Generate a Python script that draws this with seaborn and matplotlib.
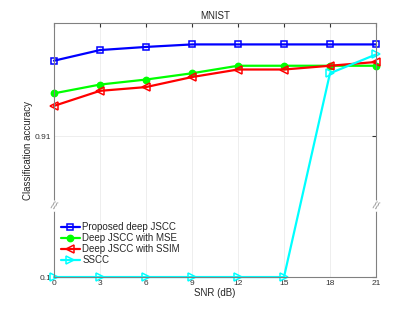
import numpy as np
import matplotlib
matplotlib.use("Agg")
import matplotlib.pyplot as plt
import seaborn as sns

snr = [0, 3, 6, 9, 12, 15, 18, 21]
proposed = [0.970, 0.9785, 0.981, 0.983, 0.983, 0.983, 0.983, 0.983]
jscc_mse = [0.944, 0.951, 0.955, 0.960, 0.966, 0.966, 0.966, 0.966]
jscc_ssim = [0.934, 0.946, 0.949, 0.957, 0.963, 0.963, 0.966, 0.969]
sscc = [0.1, 0.1, 0.1, 0.1, 0.1, 0.1, 0.960, 0.975]

labels = ["Proposed deep JSCC", "Deep JSCC with MSE", "Deep JSCC with SSIM", "SSCC"]
colors = ["#0000ff", "#00ff00", "#ff0000", "#00ffff"]
markers = ["s", "o", "<", ">"]
filled = [False, True, False, False]
msizes = [4, 4.5, 6, 6]

# broken y axis: linear above the break, squeezed below
BRK = 0.855
LOW = 0.1
LOW_T = 0.7976


def fwd(v):
    v = np.asarray(v, dtype=float)
    return np.where(v >= BRK, v, LOW_T + (v - LOW) * (BRK - LOW_T) / (BRK - LOW))


def inv(t):
    t = np.asarray(t, dtype=float)
    return np.where(t >= BRK, t, LOW + (t - LOW_T) * (BRK - LOW) / (BRK - LOW_T))


sns.set_style("white")
plt.rcParams["font.family"] = ["Liberation Sans", "DejaVu Sans"]

fig = plt.figure(figsize=(4.15, 3.12), dpi=100)
ax = fig.add_axes([0.130, 0.112, 0.776, 0.814])
ax.set_yscale("function", functions=(fwd, inv))

for vals, lab, c, m, f, ms in zip([proposed, jscc_mse, jscc_ssim, sscc],
                                  labels, colors, markers, filled, msizes):
    sns.lineplot(x=snr, y=vals, color=c, marker=m, label=lab, lw=1.6,
                 markersize=ms, markeredgewidth=1.1, markeredgecolor=c,
                 markerfacecolor=c if f else "none", clip_on=False, ax=ax)

ax.set_xlim(0, 21)
ax.set_ylim(0.1, 1.0)
ax.set_xticks(snr)
ax.set_yticks([0.1, 0.91])
ax.set_yticklabels(["0.1", "0.91"])
ax.grid(True, color="#ebebeb", lw=0.6)
ax.tick_params(direction="in", length=3, labelsize=6, colors="#333333",
               top=True, right=True, pad=2)
for sp in ax.spines.values():
    sp.set_color("#808080")
    sp.set_linewidth(0.8)

ax.set_title("MNIST", fontsize=7, pad=3)
ax.set_xlabel("SNR (dB)", fontsize=7, labelpad=1)
ax.set_ylabel("Classification accuracy", fontsize=7, labelpad=1)

for xpos in (0, 1):
    ax.text(xpos, 0.28, "//", transform=ax.transAxes, ha="center",
            va="center", fontsize=7, color="#808080", rotation=-20,
            bbox=dict(facecolor="white", edgecolor="none", pad=0.2))

ax.legend(loc="lower left", fontsize=7, frameon=False,
          handlelength=2.0, handletextpad=0.2, labelspacing=0.1,
          borderaxespad=0.3, bbox_to_anchor=(0.0, 0.02))

fig.savefig("out.png", dpi=100)
